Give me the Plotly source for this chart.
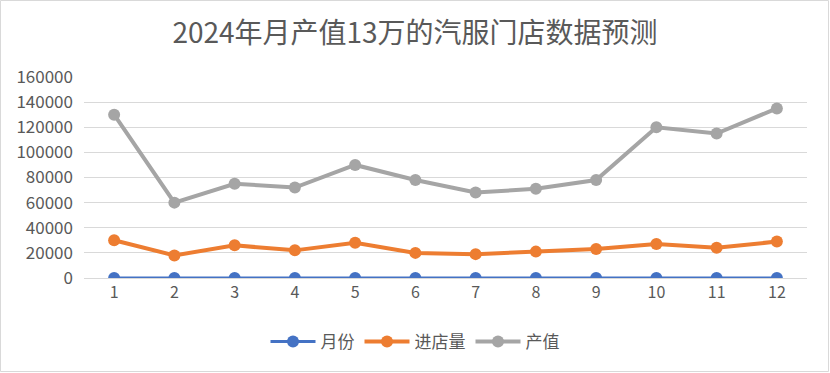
import plotly.graph_objects as go

months = [1, 2, 3, 4, 5, 6, 7, 8, 9, 10, 11, 12]
month_vals = [1, 2, 3, 4, 5, 6, 7, 8, 9, 10, 11, 12]
visitors = [30000, 18000, 26000, 22000, 28000, 20000, 19000, 21000, 23000, 27000, 24000, 29000]
output_vals = [130000, 60000, 75000, 72000, 90000, 78000, 68000, 71000, 78000, 120000, 115000, 135000]
y_ticks = [0, 20000, 40000, 60000, 80000, 100000, 120000, 140000, 160000]

FONT = "Noto Sans CJK SC"
TXT = "#595959"

W, H = 830, 373
L, R, T, B = 84, 23, 77, 95
PW, PH = W - L - R, H - T - B

fig = go.Figure()
series = [
    ("月份", month_vals, "#4472C4", 3),
    ("进店量", visitors, "#ED7D31", 4),
    ("产值", output_vals, "#A5A5A5", 4),
]
for name, vals, color, w in series:
    fig.add_trace(go.Scatter(
        x=months, y=vals, name=name, mode="lines+markers",
        line=dict(color=color, width=w),
        marker=dict(color=color, size=12),
    ))

fig.update_layout(
    width=W, height=H,
    margin=dict(l=L, r=R, t=T, b=B, autoexpand=False),
    paper_bgcolor="white", plot_bgcolor="white",
    title=dict(text="2024年月产值13万的汽服门店数据预测", x=0.5, xanchor="center",
               y=1 - 33 / H, yanchor="middle",
               font=dict(family=FONT, size=28, color=TXT)),
    font=dict(family=FONT, size=16, color=TXT),
    showlegend=True,
    legend=dict(orientation="h", x=(415 - L) / PW, xanchor="center",
                y=-(324 - 278) / PH, yanchor="top",
                font=dict(family=FONT, size=17, color=TXT), itemwidth=45,
                tracegroupgap=0),
    xaxis=dict(range=[0.5, 12.5], tickmode="array", tickvals=months,
               ticktext=[str(m) for m in months], showgrid=False, zeroline=False,
               showline=True, linecolor="#D9D9D9", linewidth=1, ticks="",
               tickfont=dict(family=FONT, size=16, color=TXT), fixedrange=True),
    yaxis=dict(range=[0, 160000], tickmode="array", tickvals=y_ticks,
               ticktext=[str(v) for v in y_ticks], showgrid=True, gridcolor="#D9D9D9",
               gridwidth=1, zeroline=False, showline=False, ticks="",
               ticklabelstandoff=10,
               tickfont=dict(family=FONT, size=17, color=TXT)),
    shapes=[dict(type="rect", xref="paper", yref="paper",
                 x0=-(L - 0.5) / PW, x1=1 + (R - 1.5) / PW,
                 y0=-(B - 1.5) / PH, y1=1 + (T - 0.5) / PH,
                 line=dict(color="#D9D9D9", width=1))],
)

fig.write_html("out.html")
